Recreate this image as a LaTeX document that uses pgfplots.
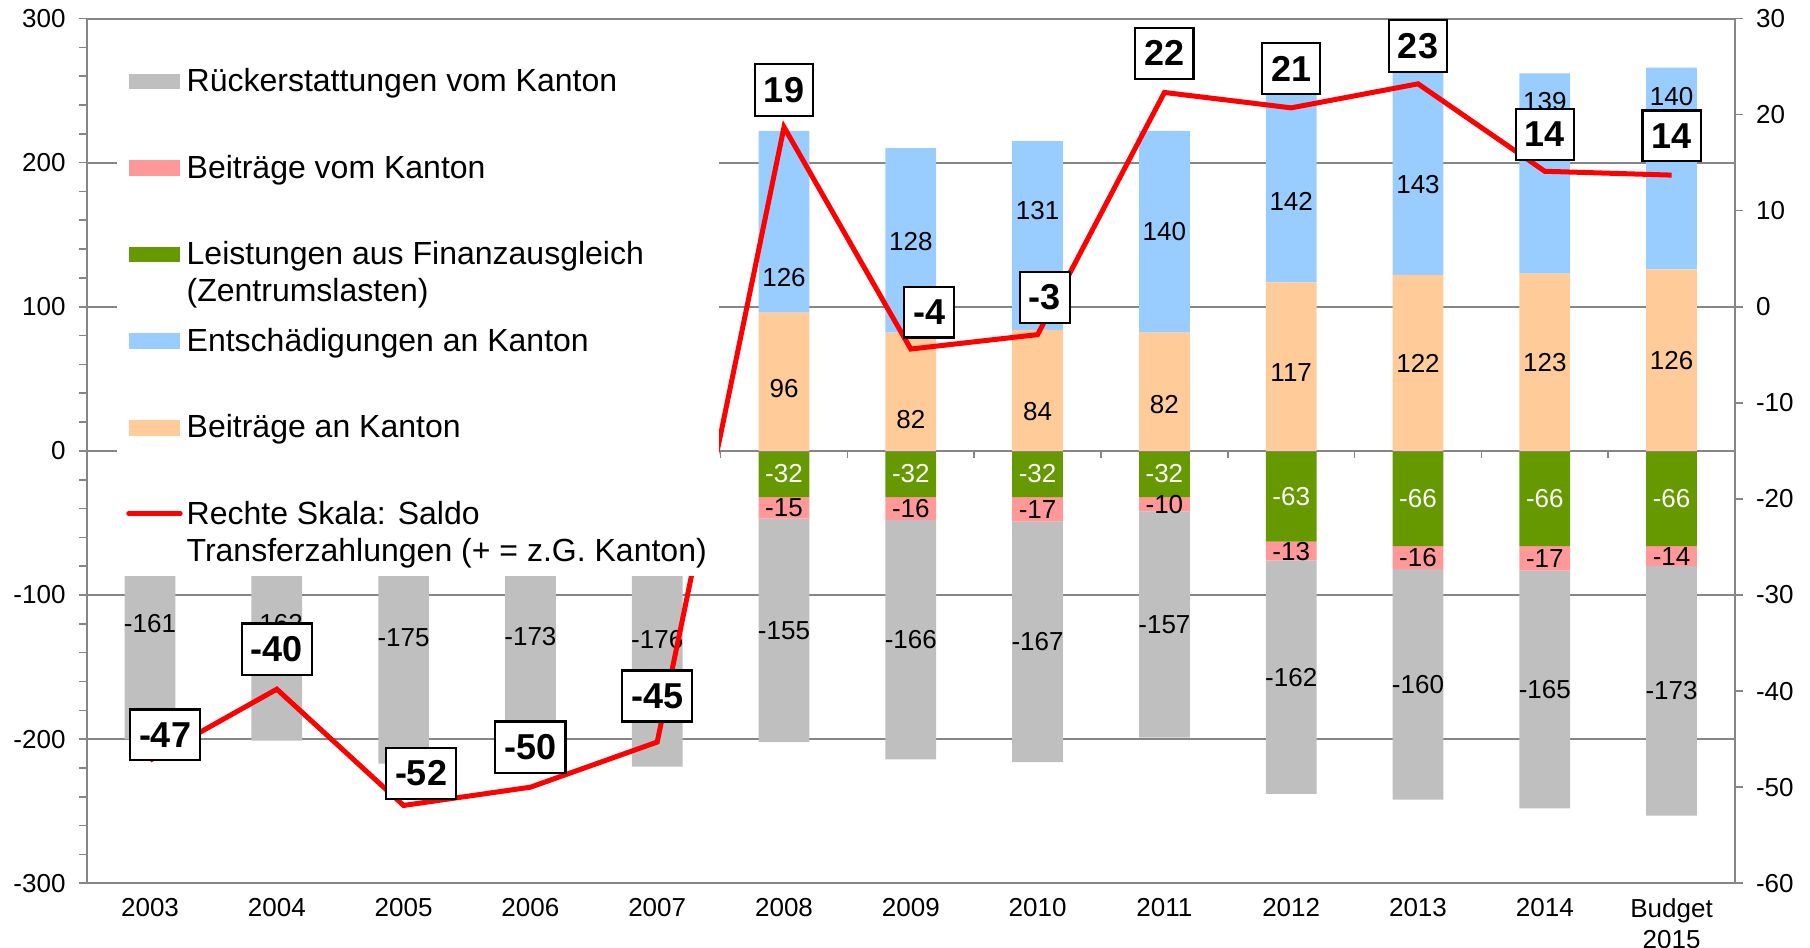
\documentclass[border=0pt]{standalone}
\usepackage{fontspec}
\setmainfont{Liberation Sans}
\usepackage{pgfplots}
\usepackage{pgfplotstable}
\pgfplotsset{compat=1.18}

\definecolor{rueck}{RGB}{191,191,191}
\definecolor{beivom}{RGB}{255,153,153}
\definecolor{leist}{RGB}{102,153,0}
\definecolor{entsch}{RGB}{153,204,255}
\definecolor{beian}{RGB}{255,204,153}
\definecolor{gitter}{RGB}{134,134,134}

% Belastungen (negativ), Mio. CHF
\pgfplotstableread{
x  gr   pk   gy
0   0  -39 -161
1   0  -39 -162
2   0  -42 -175
3   0  -42 -173
4   0  -43 -176
5 -32  -15 -155
6 -32  -16 -166
7 -32  -17 -167
8 -32  -10 -157
9 -63  -13 -162
10 -66 -16 -160
11 -66 -17 -165
12 -66 -14 -173
}\negdata

% Zahlungen an Kanton (positiv); od/bd = Verschiebung der Beschriftung
\pgfplotstableread{
x  or   bl   od   bd
5   96 126   -5  -39
6   82 128  -19   -1
7   84 131  -15   17
8   82 140   -9    0
9  117 142   -4  -15
10 122 143    0   -9
11 123 139    0   50
12 126 140    0   50
}\posdata

% Saldo (rechte Skala); dx/dy = Lage der Box in pt
\pgfplotstableread{
x   s     dx   dy
0  -47.2  7.5  12.7
1  -39.8  0    20
2  -51.9  8.7  16
3  -50.0  0    20
4  -45.3  0    23
5   18.7  0    18.5
6   -4.4  9.2  18.5
7   -2.9  3.5  18.5
8   22.3  0    19.6
9   20.7  0    19.6
10  23.2  0    19
11  14.1  0    18.5
12  13.7  0    19.6
}\saldo

\pgfplotsset{
  grundachse/.style={
    width=824pt, height=432.3pt, scale only axis,
    at={(0,0)}, anchor=south west,
    xmin=-0.5, xmax=12.5, ymin=-300, ymax=300,
    /pgf/number format/assume math mode=true,
    ticklabel style={font=\fontsize{13}{15.6}\selectfont},
  },
  wert/.style={
    visualization depends on={\thisrow{#1} \as \segval},
    nodes near coords={\pgfmathprintnumber[assume math mode=true]{\segval}},
    every node near coord/.append style={font=\fontsize{13}{15.6}\selectfont,
      anchor=center, inner sep=0pt},
  },
  wertd/.style 2 args={
    visualization depends on={\thisrow{#1} \as \segval},
    visualization depends on={\thisrow{#2} \as \dlt},
    nodes near coords={\pgfmathprintnumber[assume math mode=true]{\segval}},
    every node near coord/.append style={font=\fontsize{13}{15.6}\selectfont,
      anchor=center, inner sep=0pt, yshift={0.7205pt*(\dlt)}},
  },
  feld/.style={legend image code/.code={\fill[##1, draw=none] (0pt,1.2pt) rectangle (25.7pt,8.9pt);}},
  strich/.style={legend image code/.code={\draw[##1, line cap=round] (0pt,5.5pt) -- (25.7pt,5.5pt);}},
}

\begin{document}
\begin{tikzpicture}
% Achse 1: negative Balken, Gitter, linke Skala
\begin{axis}[grundachse, ybar stacked, bar width=0.4,
  axis x line*=bottom, axis y line*=left,
  axis line style={-, gitter, line width=1pt},
  ytick={-300,-200,...,300}, minor y tick num=4,
  ymajorgrids, major grid style={gitter, line width=1pt},
  tick align=outside, major tick length=4pt, minor tick length=4pt,
  ytick style={gitter, line width=0.8pt},
  xtick={0,...,12}, xtick style={draw=none},
  xticklabels={2003,2004,2005,2006,2007,2008,2009,2010,2011,2012,2013,2014,{Budget\\2015}},
  xticklabel style={align=center},
  yticklabel style={xshift=-3pt},
]
\addplot[fill=leist, draw=none, wert=gr, every node near coord/.append style={text=white}] table[x=x,y=gr]{\negdata};
\addplot[fill=beivom, draw=none, wert=pk] table[x=x,y=pk]{\negdata};
\addplot[fill=rueck, draw=none, wert=gy] table[x=x,y=gy]{\negdata};
\end{axis}

% Achse 2: positive Balken
\begin{axis}[grundachse, ybar stacked, bar width=0.4, hide axis]
\addplot[fill=beian, draw=none, wertd={or}{od}] table[x=x,y=or]{\posdata};
\addplot[fill=entsch, draw=none, wertd={bl}{bd}] table[x=x,y=bl]{\posdata};
\draw[gitter, line width=1pt] (axis cs:-0.5,0) -- (axis cs:12.5,0);
\pgfplotsinvokeforeach{0.5,1.5,...,11.5}{\draw[gitter, line width=0.8pt] (axis cs:#1,0) -- ++(0pt,-3.7pt);}
\end{axis}

% Achse 3: Saldo, rechte Skala, Legende
\begin{axis}[grundachse, ymin=-60, ymax=30,
  axis x line=none, axis y line*=right,
  axis line style={-, gitter, line width=1pt},
  ytick={-60,-50,...,30}, tick align=outside, major tick length=4pt,
  ytick style={gitter, line width=0.8pt},
  yticklabel style={xshift=3pt},
  legend cell align=left,
  legend style={at={(0.0238,0.9439)}, anchor=north west, draw=none, fill=none,
    inner sep=0pt, column sep=2pt, row sep=9.3pt,
    nodes={inner sep=0pt, anchor=base west, text height=12pt, text depth=22pt,
      font=\fontsize{16}{18.4}\selectfont}},
]
\addlegendimage{feld, fill=rueck}
\addlegendentry{Rückerstattungen vom Kanton}
\addlegendimage{feld, fill=beivom}
\addlegendentry{Beiträge vom Kanton}
\addlegendimage{feld, fill=leist}
\addlegendentry{\begin{tabular}[t]{@{}l@{}}Leistungen aus Finanzausgleich\\(Zentrumslasten)\end{tabular}}
\addlegendimage{feld, fill=entsch}
\addlegendentry{Entschädigungen an Kanton}
\addlegendimage{feld, fill=beian}
\addlegendentry{Beiträge an Kanton}
\addplot[red, line width=2.5pt, strich,
  visualization depends on={\thisrow{dx} \as \dx},
  visualization depends on={\thisrow{dy} \as \dy},
  nodes near coords={\pgfmathprintnumber[fixed,precision=0,assume math mode=true]{\pgfplotspointmeta}},
  every node near coord/.append style={font=\bfseries\fontsize{18}{20}\selectfont,
    text=black, draw=black, line width=1.1pt, fill=white,
    inner xsep=4.5pt, inner ysep=6.5pt, anchor=center, xshift=\dx pt, yshift=\dy pt}
] table[x=x,y=s]{\saldo};
\addlegendentry{\begin{tabular}[t]{@{}l@{}}Rechte Skala: Saldo\\Transferzahlungen (+ = z.G. Kanton)\end{tabular}}
\fill[white] (rel axis cs:0.01814,0.9693) rectangle (rel axis cs:0.3835,0.3552);
\end{axis}
\pgfresetboundingbox
\path (-43.3pt,-32pt) rectangle (861.5pt,441.55pt);
\end{tikzpicture}
\end{document}
